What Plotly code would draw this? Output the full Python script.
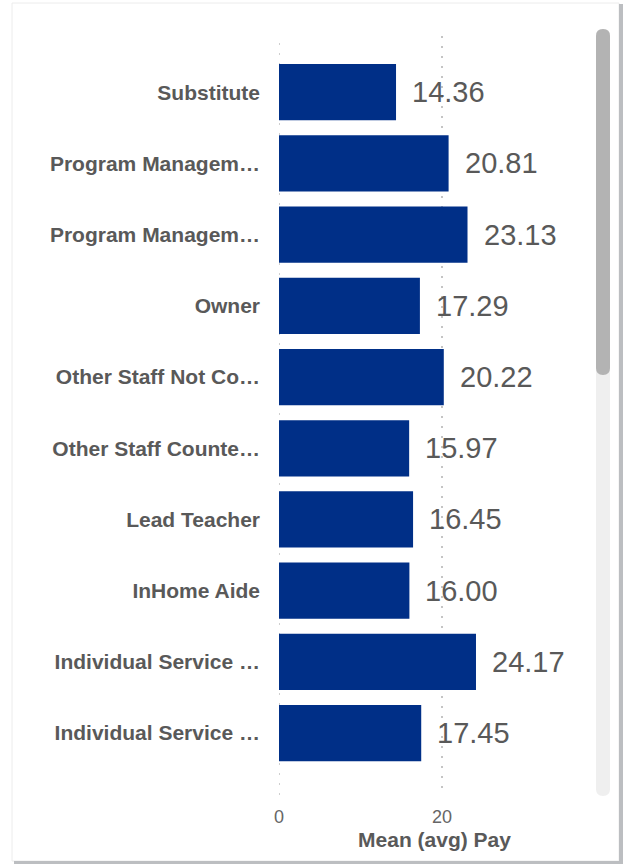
import plotly.graph_objects as go

# Job titles (top to bottom) and their mean hourly pay
roles = [
    "Substitute",
    "Program Managem\u2026",
    "Program Managem\u2026",
    "Owner",
    "Other Staff Not Co\u2026",
    "Other Staff Counte\u2026",
    "Lead Teacher",
    "InHome Aide",
    "Individual Service \u2026",
    "Individual Service \u2026",
]
mean_pay = [14.36, 20.81, 23.13, 17.29, 20.22, 15.97, 16.45, 16.00, 24.17, 17.45]
x_ticks = [0, 20]

W, H = 626, 865
L, R, T, B = 279, 36, 36, 70
PW, PH = W - L - R, H - T - B
PX_PER_UNIT = 163 / 20.0
x_max = PW / PX_PER_UNIT

BAR = "#002f87"
TXT = "#595959"
GRID = "#c4c4c4"
FONT = "Liberation Sans, Arial, sans-serif"

pos = list(range(len(roles)))

fig = go.Figure(
    go.Bar(
        x=mean_pay,
        y=pos,
        orientation="h",
        marker=dict(color=BAR, line=dict(width=0)),
        hoverinfo="skip",
    )
)

# value labels to the right of each bar
for p, v in zip(pos, mean_pay):
    fig.add_annotation(
        x=v, y=p, xref="x", yref="y",
        text=f"{v:.2f}", showarrow=False,
        xanchor="left", yanchor="middle", xshift=14,
        font=dict(family=FONT, size=29, color=TXT),
    )

def px_x(p):
    return (p - L) / PW

def px_y(p):
    return 1 - (p - T) / PH

# dotted reference line at zero (grid line on the range edge)
fig.add_shape(type="line", xref="x", yref="paper", x0=0, x1=0, y0=0, y1=1,
              line=dict(color=GRID, width=1.6, dash="2px,8px"), layer="below")

# card frame with darker right/bottom edge
fig.add_shape(type="rect", xref="paper", yref="paper",
              x0=px_x(12), x1=px_x(619), y0=px_y(861), y1=px_y(3),
              line=dict(color="#ececec", width=1), fillcolor="rgba(0,0,0,0)", layer="below")
fig.add_shape(type="line", xref="paper", yref="paper",
              x0=px_x(621), x1=px_x(621), y0=px_y(864), y1=px_y(4),
              line=dict(color="#bcbec1", width=4))
fig.add_shape(type="line", xref="paper", yref="paper",
              x0=px_x(14), x1=px_x(623), y0=px_y(862.5), y1=px_y(862.5),
              line=dict(color="#bcbec1", width=3))

# scrollbar track and thumb
def pill(y_top, y_bot):
    return (f"M {px_x(596)},{px_y(y_top + 7)} L {px_x(596)},{px_y(y_bot - 7)} "
            f"Q {px_x(596)},{px_y(y_bot)} {px_x(603)},{px_y(y_bot)} "
            f"Q {px_x(610)},{px_y(y_bot)} {px_x(610)},{px_y(y_bot - 7)} "
            f"L {px_x(610)},{px_y(y_top + 7)} "
            f"Q {px_x(610)},{px_y(y_top)} {px_x(603)},{px_y(y_top)} "
            f"Q {px_x(596)},{px_y(y_top)} {px_x(596)},{px_y(y_top + 7)} Z")

fig.add_shape(type="path", xref="paper", yref="paper", path=pill(29, 796),
              fillcolor="#efefef", line=dict(width=0))
fig.add_shape(type="path", xref="paper", yref="paper", path=pill(29, 375),
              fillcolor="#b3b3b3", line=dict(width=0))

fig.update_layout(
    width=W, height=H,
    margin=dict(l=L, r=R, t=T, b=B),
    paper_bgcolor="white", plot_bgcolor="white",
    showlegend=False,
    bargap=0.21,
    font=dict(family=FONT, color=TXT),
    xaxis=dict(
        range=[0, x_max],
        tickvals=x_ticks, ticktext=[str(t) for t in x_ticks],
        tickfont=dict(size=18, color="#666666"),
        showgrid=True, gridcolor=GRID, gridwidth=1.6, griddash="2px,8px",
        zeroline=False, showline=False, ticks="", ticklabelstandoff=9,
        title=dict(text="<b>Mean (avg) Pay</b>", font=dict(size=21, color=TXT), standoff=6),
        fixedrange=True,
    ),
    yaxis=dict(
        tickvals=pos, ticktext=roles,
        range=[9.87, -0.79],
        tickfont=dict(size=21, color=TXT, weight="bold"),
        ticks="", ticklabelstandoff=18,
        showgrid=False, zeroline=False, showline=False,
        fixedrange=True,
    ),
)

fig.write_html("out.html")
